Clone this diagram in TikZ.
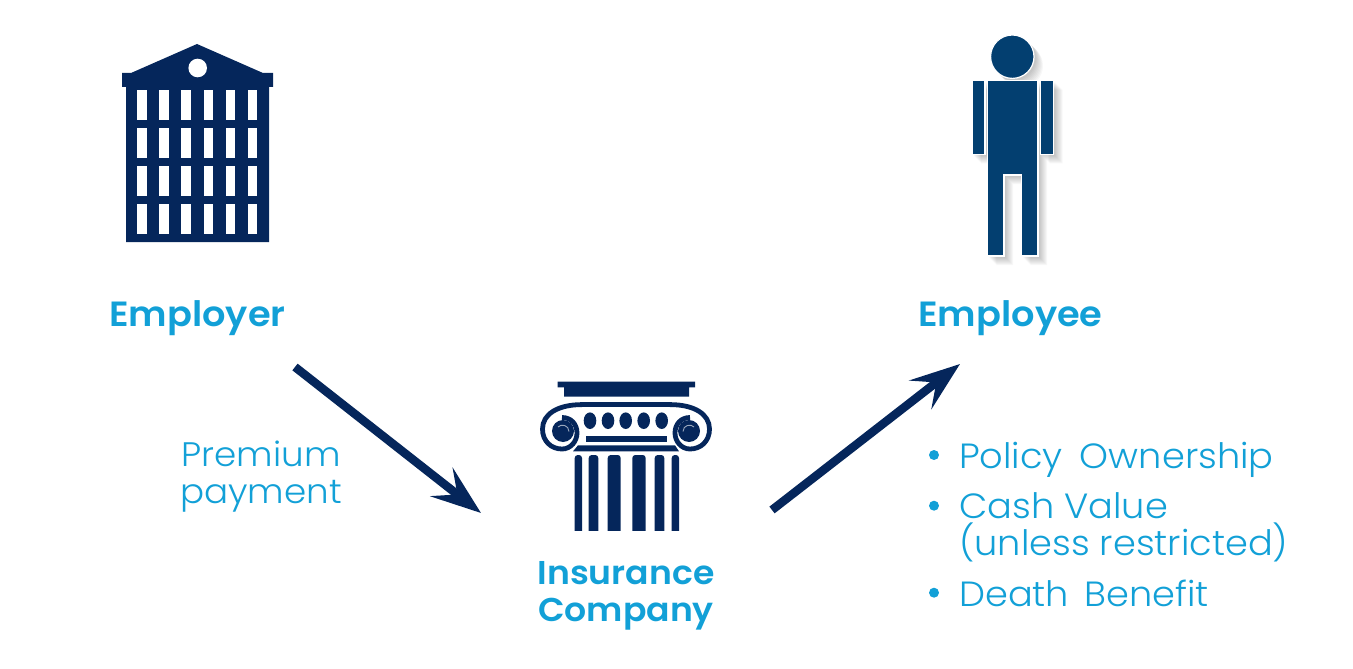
\documentclass[tikz,border=0pt]{standalone}
\usepackage{fontspec}
\setmainfont{Poppins Light}[BoldFont={Poppins SemiBold},FakeStretch=1.05]
\usetikzlibrary{arrows.meta,positioning}
\definecolor{navy}{HTML}{05265B}
\definecolor{steel}{HTML}{033F70}
\definecolor{sky}{HTML}{12A0D7}
\tikzset{
	head/.style={font=\bfseries\fontsize{35}{36.5}\selectfont,text=sky,align=center,inner sep=0pt,anchor=base},
	note/.style={font=\fontsize{35}{36.5}\selectfont,text=sky,align=left,inner sep=0pt,anchor=base west},
	dot/.style={circle,fill=sky,minimum size=10pt,inner sep=0pt},
	flow/.style={draw=navy,line width=8.5pt,-{Stealth[length=50pt,width=36pt,inset=20pt]}},
}
\begin{document}
\begin{tikzpicture}[x=1pt,y=-1pt]
	\useasboundingbox (0,0) rectangle (1353,669);
	% employer
	\fill[navy] (197,44) -- (263,73) -- (273,73) -- (273,87) -- (269,87) -- (269,242) -- (126,242)
		-- (126,87) -- (122,87) -- (122,73) -- (131,73) -- cycle;
	\fill[white] (197.7,68) circle (9.3);
	\foreach \col in {0,...,5}
		\foreach \row in {0,...,3}
			\fill[white] ({137.3+22.07*\col},{90+38*\row}) rectangle ++(9.8,29.5);
	% employee
	\foreach \off in {9,8,7,6,5,4,3,2}
		\fill[black,opacity=.03,shift={(\off,\off)}] (1012.3,56.7) circle (21.7)
			(972,80.7) rectangle (985,154.3) (1040.7,80.7) rectangle (1053.7,154.3)
			(987.3,80.7) -- (1038,80.7) -- (1038,256) -- (1021.3,256) -- (1021.3,175) -- (1004,175) -- (1004,256) -- (987.3,256) -- cycle;
	\fill[steel,draw=white,line width=1.2pt] (1012.3,56.7) circle (21.7);
	\fill[steel,draw=white,line width=1.2pt] (972,80.7) rectangle (985,154.3);
	\fill[steel,draw=white,line width=1.2pt] (1040.7,80.7) rectangle (1053.7,154.3);
	\fill[steel,draw=white,line width=1.2pt] (987.3,80.7) -- (1038,80.7) -- (1038,256) -- (1021.3,256)
		-- (1021.3,175) -- (1004,175) -- (1004,256) -- (987.3,256) -- cycle;
	% column
	\fill[navy] (557.7,381.7) rectangle (695,387.3) (564,387.3) rectangle (689,396.7);
	\draw[navy,line width=4.8pt] (580,404.6) -- (672,404.6);
	\foreach \side/\mirror in {0/1,1252/-1}{
		\begin{scope}[shift={(\side,0)},xscale=\mirror]
			\draw[navy,line width=4.8pt] (582,404.6) .. controls (558,404.6) and (542.5,414) .. (542.5,429)
				.. controls (542.5,441) and (551,449) .. (562,449)
				.. controls (571,449) and (577,441) .. (577,433) .. controls (577,424) and (571,417.5) .. (562,417.5);
			\fill[navy] (563,431) circle (11);
			\draw[white,opacity=.6,line width=.9pt] (558,427) .. controls (561,423.5) and (569,425) .. (569,431.5);
		\end{scope}
	}
	\foreach \xpos in {590,608,625.7,643.7,661.7}
		\fill[navy] (\xpos,420.7) ellipse (6.3 and 8.3);
	\fill[navy] (585.7,436) rectangle (666.7,442.3);
	\fill[navy] (578,445.3) -- (675,445.3) -- (679,451.3) -- (573,451.3) -- cycle;
	\foreach \xa/\xb in {574.7/582,588.7/598.3,607.7/620.7,632.3/645.7,654.7/664.3,671.7/679}
		\fill[navy,rounded corners=3pt] (\xa,535) -- (\xa,455) -- (\xb,455) -- (\xb,535) -- cycle;
	\fill[white] (570,530.7) rectangle (684,537);
	% labels
	\node[head] (employer) at (197.5,326) {Employer};
	\node[head] (employee) at (1010.5,326) {Employee};
	\node[head,font=\bfseries\fontsize{33}{36.5}\selectfont] (insurer) at (626,621) {Insurance\\Company};
	\node[note,align=center,anchor=base,font=\fontsize{34}{36.5}\selectfont] (premium) at (261,503) {Premium\\payment};
	\node[note] (ownership) at (959,468) {Policy\hspace{7pt} Ownership};
	\node[note] (cash) at (959,555) {Cash Value\\(unless restricted)};
	\node[note] (death) at (959,606) {Death\hspace{5pt} Benefit};
	\node[dot] (dotone) at (934,455) {};
	\node[dot] (dottwo) at (934,505.7) {};
	\node[dot] (dotthree) at (934,592.7) {};
	% arrows
	\coordinate (paidfrom) at (295,367);
	\coordinate (paidto) at (481,513);
	\coordinate (ownfrom) at (772,510);
	\coordinate (ownto) at (960,364);
	\draw[flow] (paidfrom) -- (paidto);
	\draw[flow] (ownfrom) -- (ownto);
\end{tikzpicture}
\end{document}
